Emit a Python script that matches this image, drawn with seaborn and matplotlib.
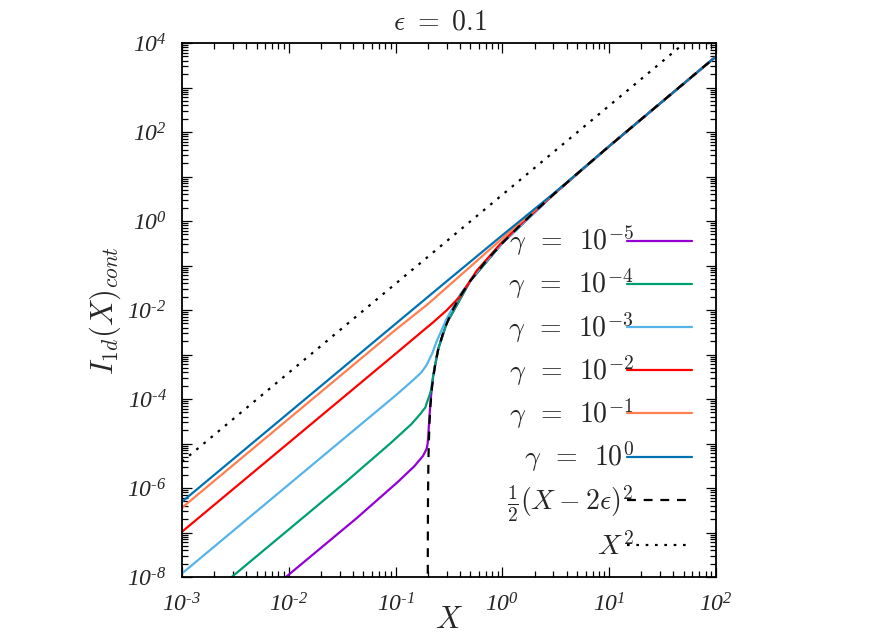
import numpy as np
import pandas as pd
import matplotlib
matplotlib.use("Agg")
import matplotlib.pyplot as plt
import seaborn as sns
from matplotlib.ticker import LogLocator, FuncFormatter, NullFormatter

# values (log-log)
x_g5 = [1e-3, 9.4e-3, 0.0432, 0.106, 0.15, 0.18, 0.195, 0.199, 0.2015, 0.205, 0.21, 0.215, 0.225, 0.25, 0.3, 0.5, 1, 3, 10, 100]
y_g5 = [1.1e-10, 1e-8, 2.1e-7, 1.4e-6, 3.1e-6, 5.2e-6, 7.5e-6, 9.5e-6, 1.3e-5, 2.5e-5, 6e-5, 1.2e-4, 3.3e-4, 1.3e-3, 5e-3, 0.045, 0.32, 3.92, 48, 4980]

x_g4 = [1e-3, 2.92e-3, 1e-2, 0.0348, 0.089, 0.14, 0.169, 0.19, 0.197, 0.205, 0.215, 0.225, 0.25, 0.3, 0.5, 1, 3, 10, 100]
y_g4 = [1.2e-9, 1e-8, 1.17e-7, 1.42e-6, 1.0e-5, 2.7e-5, 4.5e-5, 6.5e-5, 8.5e-5, 1.1e-4, 1.6e-4, 3.4e-4, 1.3e-3, 5e-3, 0.045, 0.32, 3.92, 48, 4980]

x_g3 = [1e-3, 1e-2, 0.0243, 0.1, 0.147, 0.175, 0.195, 0.22, 0.243, 0.26, 0.3, 0.4, 0.6, 1, 3, 10, 100]
y_g3 = [1.2e-8, 1.2e-6, 7.1e-6, 1.2e-4, 2.7e-4, 4.0e-4, 5.8e-4, 1.05e-3, 2.0e-3, 2.9e-3, 6.3e-3, 0.022, 0.081, 0.32, 3.92, 48, 4980]

x_g2 = [1e-3, 1e-2, 0.1, 0.18, 0.225, 0.3, 0.4, 0.574, 0.95, 1.46, 3, 10, 100]
y_g2 = [1.04e-7, 1.04e-5, 1.04e-3, 3.4e-3, 5.3e-3, 9.8e-3, 0.020, 0.076, 0.30, 0.82, 3.95, 48, 4980]

x_g1 = [1e-3, 1e-2, 0.1, 0.2, 0.45, 1, 2, 4, 10, 100]
y_g1 = [3.6e-7, 3.6e-5, 3.6e-3, 0.0135, 0.075, 0.41, 1.75, 7.3, 48, 4980]

x_g0 = [1e-3, 1e-2, 0.1, 0.3, 1, 3, 5, 10, 100]
y_g0 = [4.9e-7, 4.9e-5, 4.9e-3, 0.044, 0.48, 4.1, 11.6, 48, 4980]

x_lim = [0.2001, 0.2003, 0.201, 0.203, 0.207, 0.212, 0.22, 0.235, 0.25, 0.28, 0.33, 0.4, 0.5, 0.7, 1, 1.5, 2, 3, 5, 10, 30, 100]
y_lim = [5e-9, 4.5e-8, 5e-7, 4.5e-6, 2.5e-5, 7.2e-5, 2e-4, 6.1e-4, 1.25e-3, 3.2e-3, 8.5e-3, 0.02, 0.045, 0.125, 0.32, 0.845, 1.62, 3.92, 11.5, 48, 442, 4980]

x_sq = [1e-3, 100]
y_sq = [3.9e-6, 3.9e4]

gamma_labels = [r"$\gamma\ \,=\ \,10^{-5}$", r"$\gamma\ \,=\ \,10^{-4}$", r"$\gamma\ \,=\ \,10^{-3}$",
                r"$\gamma\ \,=\ \,10^{-2}$", r"$\gamma\ \,=\ \,10^{-1}$", r"$\gamma\ \,=\ \,10^{0}$"]
gamma_colors = ["#9400d3", "#009e73", "#56b4e9", "#ff0000", "#ff7f50", "#0072b2"]

sns.set_theme(style="ticks")
plt.rcParams["font.family"] = ["Liberation Serif", "DejaVu Serif"]
# tick labels: italic Times-like digits, gnuplot style
plt.rcParams["mathtext.fontset"] = "custom"
plt.rcParams["mathtext.rm"] = "Liberation Serif:italic"
plt.rcParams["mathtext.it"] = "Liberation Serif:italic"

fig, ax = plt.subplots(figsize=(8.72, 6.38), dpi=100)
fig.subplots_adjust(left=0.2087, right=0.8211, bottom=0.0956, top=0.9326)

curves = [(x_g5, y_g5), (x_g4, y_g4), (x_g3, y_g3), (x_g2, y_g2), (x_g1, y_g1), (x_g0, y_g0)]
handles = []
for (xs, ys), lab, col in zip(curves, gamma_labels, gamma_colors):
    sns.lineplot(x=xs, y=ys, ax=ax, color=col, lw=1.6, label=lab, sort=False)
    handles.append(ax.lines[-1])

sns.lineplot(x=x_lim, y=y_lim, ax=ax, color="black", lw=1.6, linestyle=(0, (4, 3.5)),
             label=r"$\frac{1}{2}(X-2\epsilon)^2$", sort=False)
handles.append(ax.lines[-1])
sns.lineplot(x=x_sq, y=y_sq, ax=ax, color="black", lw=1.6, linestyle=(0, (1.2, 3.0)),
             label=r"$X^2$", sort=False)
handles.append(ax.lines[-1])

ax.set_xscale("log")
ax.set_yscale("log")
ax.set_xlim(1e-3, 1e2)
ax.set_ylim(1e-8, 1e4)


def fmt(v, pos, every=1):
    e = int(round(np.log10(v)))
    if e % every:
        return ""
    if e < 0:
        return r"$10^{\text{-}%d}$" % (-e)
    return r"$10^{%d}$" % e


for axis, every in [(ax.xaxis, 1), (ax.yaxis, 2)]:
    axis.set_major_locator(LogLocator(base=10, numticks=30))
    axis.set_minor_locator(LogLocator(base=10, subs=np.arange(2, 10), numticks=300))
    axis.set_major_formatter(FuncFormatter(lambda v, p, ev=every: fmt(v, p, ev)))
    axis.set_minor_formatter(NullFormatter())

ax.tick_params(which="both", direction="in", top=True, right=True, color="black",
               width=0.9, labelsize=17)
ax.tick_params(which="major", length=7)
ax.tick_params(which="minor", length=4)
ax.tick_params(axis="x", pad=12)
ax.tick_params(axis="y", pad=11)
for s in ax.spines.values():
    s.set_linewidth(1.3)
    s.set_color("black")

ax.set_xlabel(r"$X$", fontsize=22, labelpad=-8, math_fontfamily="cm")
ax.set_ylabel(r"$I_{1d}(X)_{cont}$", fontsize=22, labelpad=3, math_fontfamily="cm")
ax.set_title(r"$\epsilon\ =\ 0.1$", fontsize=20, pad=10, x=0.483, math_fontfamily="cm")

leg = ax.legend(handles=handles, labels=[h.get_label() for h in handles], loc="lower right",
                bbox_to_anchor=(0.955, 0.03), frameon=False, markerfirst=False,
                fontsize=20, handlelength=2.35, handletextpad=-0.25, labelspacing=0.31,
                borderpad=0, borderaxespad=0)
for t in leg.get_texts():
    t.set_math_fontfamily("cm")

fig.savefig("out.png", dpi=100)
